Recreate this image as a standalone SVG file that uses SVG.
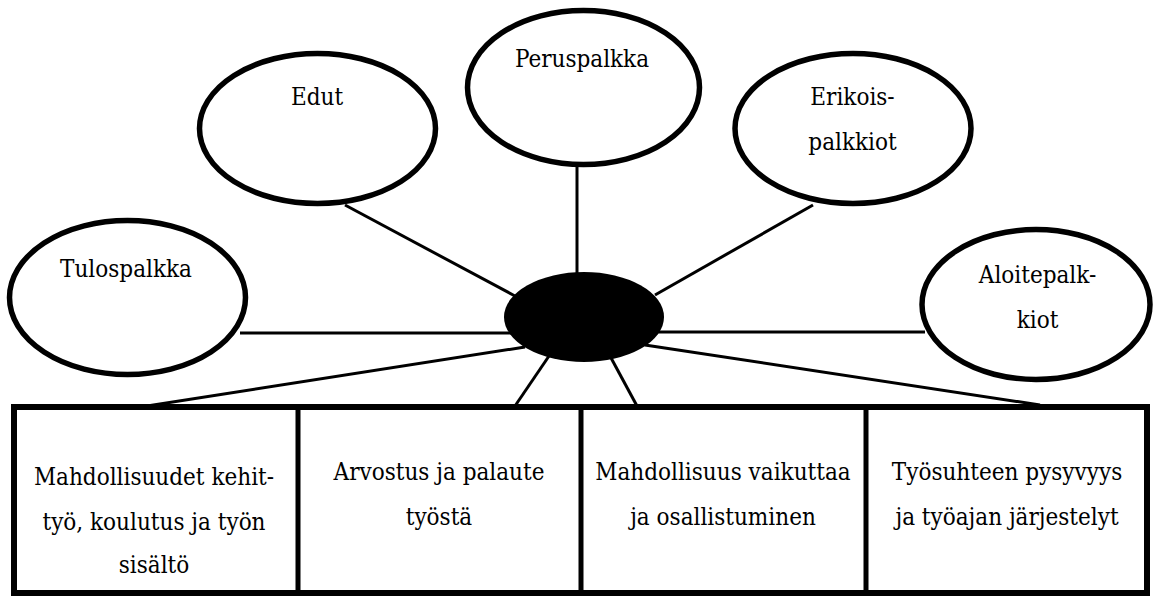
<svg xmlns="http://www.w3.org/2000/svg" width="1154" height="599" viewBox="0 0 1154 599">
<style>
.oval{fill:#fff;stroke:#000;stroke-width:5.5}
.hub{fill:#000;stroke:none}
.conn line{stroke:#000;stroke-width:3}
.box{fill:#fff;stroke:#000;stroke-width:6}
.div{stroke:#000;stroke-width:5}
.t{font-family:'DejaVu Serif Condensed','DejaVu Serif',serif;font-stretch:condensed;font-size:24px;fill:#000;text-anchor:middle}
</style>
<rect width="1154" height="599" fill="#fff"/>
<g id="connectors" class="conn">
<line x1="240" y1="333" x2="515" y2="333"/>
<line x1="345" y1="205" x2="515" y2="296"/>
<line x1="577" y1="167" x2="577" y2="275"/>
<line x1="813" y1="205" x2="655" y2="295"/>
<line x1="655" y1="332" x2="925" y2="332"/>
<line x1="147" y1="406" x2="525" y2="347"/>
<line x1="515" y1="406" x2="549" y2="356"/>
<line x1="637" y1="406" x2="610" y2="356"/>
<line x1="1040" y1="405" x2="645" y2="345"/>
</g>
<g id="hub"><ellipse class="hub" cx="584" cy="317" rx="80" ry="45"/></g>
<g id="tulospalkka"><ellipse class="oval" cx="127.5" cy="297.5" rx="118" ry="77"/><text class="t" x="126" y="277">Tulospalkka</text></g>
<g id="edut"><ellipse class="oval" cx="317.5" cy="128.5" rx="118" ry="75"/><text class="t" x="317" y="105">Edut</text></g>
<g id="peruspalkka"><ellipse class="oval" cx="583.5" cy="87.5" rx="116" ry="77"/><text class="t" x="582" y="67">Peruspalkka</text></g>
<g id="erikoispalkkiot"><ellipse class="oval" cx="853" cy="128.5" rx="118" ry="75"/><text class="t" x="852.5" y="105">Erikois-</text><text class="t" x="852.5" y="150">palkkiot</text></g>
<g id="aloitepalkkiot"><ellipse class="oval" cx="1036" cy="304.5" rx="114" ry="75"/><text class="t" x="1037.5" y="283">Aloitepalk-</text><text class="t" x="1037.5" y="328">kiot</text></g>
<g id="boxes">
<rect class="box" x="14" y="407" width="1133" height="186"/>
<line class="div" x1="298" y1="407" x2="298" y2="593"/>
<line class="div" x1="581" y1="407" x2="581" y2="593"/>
<line class="div" x1="866" y1="407" x2="866" y2="593"/>
</g>
<g id="box1"><text class="t" x="154" y="485">Mahdollisuudet kehit-</text><text class="t" x="154" y="530">työ, koulutus ja työn</text><text class="t" x="154" y="573">sisältö</text></g>
<g id="box2"><text class="t" x="439" y="480">Arvostus ja palaute</text><text class="t" x="439" y="525">työstä</text></g>
<g id="box3"><text class="t" x="723" y="480">Mahdollisuus vaikuttaa</text><text class="t" x="723" y="525">ja osallistuminen</text></g>
<g id="box4"><text class="t" x="1007" y="480">Työsuhteen pysyvyys</text><text class="t" x="1007" y="525">ja työajan järjestelyt</text></g>
</svg>
